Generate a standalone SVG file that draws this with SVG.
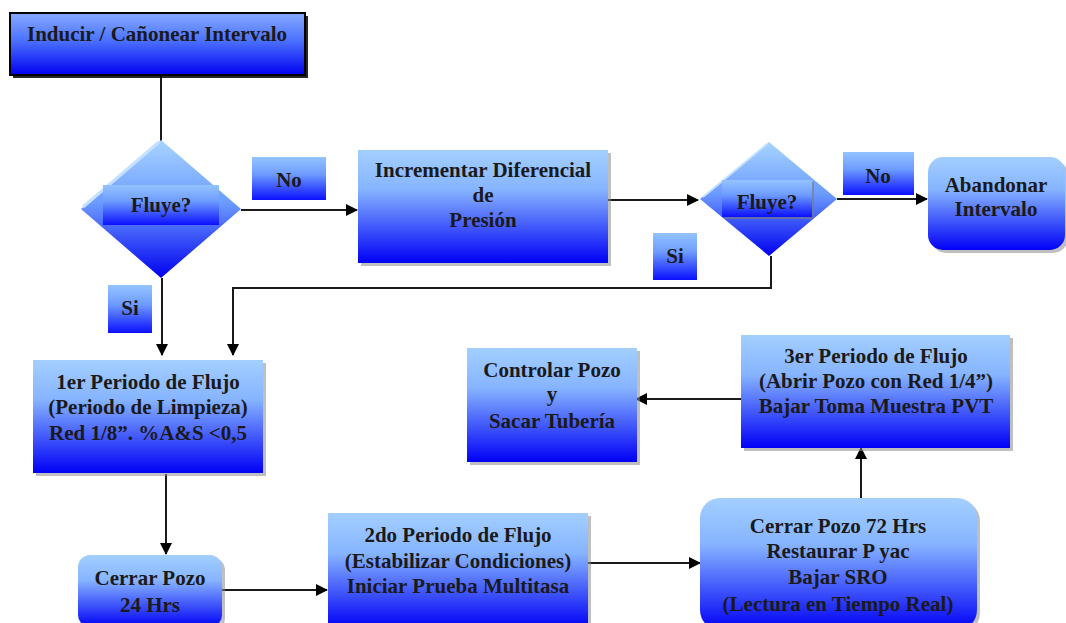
<svg xmlns="http://www.w3.org/2000/svg" width="1066" height="623" viewBox="0 0 1066 623">
  <defs>
    <linearGradient id="gBox" x1="0" y1="0" x2="0" y2="1">
      <stop offset="0" stop-color="#a3cfff"/>
      <stop offset="0.35" stop-color="#86b4ff"/>
      <stop offset="1" stop-color="#0000f6"/>
    </linearGradient>
    <linearGradient id="gTop" x1="0" y1="0" x2="0" y2="1">
      <stop offset="0" stop-color="#86aaff"/>
      <stop offset="0.45" stop-color="#4a70ff"/>
      <stop offset="1" stop-color="#0000f0"/>
    </linearGradient>
    <linearGradient id="gDia" x1="0" y1="0" x2="0" y2="1">
      <stop offset="0" stop-color="#a8d4ff"/>
      <stop offset="0.45" stop-color="#6c9cff"/>
      <stop offset="1" stop-color="#0000f0"/>
    </linearGradient>
    <linearGradient id="gTag" x1="0" y1="0" x2="0" y2="1">
      <stop offset="0" stop-color="#94c4ff"/>
      <stop offset="0.4" stop-color="#6e9cff"/>
      <stop offset="1" stop-color="#0a10ff"/>
    </linearGradient>
    <marker id="arr" viewBox="0 0 12 12" refX="11" refY="6" markerWidth="12" markerHeight="12" markerUnits="userSpaceOnUse" orient="auto">
      <path d="M0,0 L12,6 L0,12 Z" fill="#000"/>
    </marker>
    <style>
      .box { fill: url(#gBox); }
      .shadow { fill: #8a8a8a; opacity: 0.55; }
      .dia { fill: url(#gDia); }
      .tag { fill: url(#gTag); }
      .txt { font-family: "Liberation Serif", "Times New Roman", serif; font-weight: bold; font-size: 21px; fill: #1a1a1a; text-anchor: middle; }
      .conn { fill: none; stroke: #1a1a1a; stroke-width: 2; }
    </style>
  </defs>

  <rect width="1066" height="623" fill="#ffffff"/>

  <!-- connectors -->
  <g id="connectors">
    <path class="conn" d="M161,75 V142"/>
    <path class="conn" d="M241,210 H357" marker-end="url(#arr)"/>
    <path class="conn" d="M608,200 H698" marker-end="url(#arr)"/>
    <path class="conn" d="M837,199 H927" marker-end="url(#arr)"/>
    <path class="conn" d="M771,256 V288 H233 V355" marker-end="url(#arr)"/>
    <path class="conn" d="M162,278 V355" marker-end="url(#arr)"/>
    <path class="conn" d="M166,474 V554" marker-end="url(#arr)"/>
    <path class="conn" d="M218,590 H327" marker-end="url(#arr)"/>
    <path class="conn" d="M585,563 H700" marker-end="url(#arr)"/>
    <path class="conn" d="M861,498 V448" marker-end="url(#arr)"/>
    <path class="conn" d="M741,399 H636" marker-end="url(#arr)"/>
  </g>

  <!-- start -->
  <g id="n-inducir">
    <rect x="13" y="16" width="295" height="62" fill="#000" opacity="0.85"/>
    <rect x="10" y="13" width="295" height="62" fill="url(#gTop)" stroke="#000" stroke-width="2"/>
    <text class="txt" x="157" y="41">Inducir / Cañonear Intervalo</text>
  </g>

  <!-- first decision -->
  <g id="n-fluye1">
    <polygon class="dia" points="161,140 241,209 161,278 81,209"/>
    <polyline points="83,207 159,142" fill="none" stroke="#c4e2ff" stroke-width="3"/>
    <rect class="tag" x="103" y="185" width="116" height="40"/>
    <text class="txt" x="161" y="212">Fluye?</text>
  </g>

  <g id="lbl-no1">
    <rect class="tag" x="252" y="157" width="74" height="43"/>
    <text class="txt" x="289" y="187">No</text>
  </g>

  <g id="n-incrementar">
    <rect class="shadow" x="361" y="153" width="250" height="113"/>
    <rect class="box" x="358" y="150" width="250" height="113"/>
    <text class="txt" x="483" y="177">Incrementar Diferencial</text>
    <text class="txt" x="483" y="202">de</text>
    <text class="txt" x="483" y="227">Presión</text>
  </g>

  <!-- second decision -->
  <g id="n-fluye2">
    <polygon class="dia" points="769,142 837,199 769,256 700,199"/>
    <polyline points="703,197 767,144" fill="none" stroke="#c4e2ff" stroke-width="2"/>
    <rect x="724" y="182" width="90" height="37" fill="#7a7a7a" opacity="0.6"/>
    <rect class="tag" x="722" y="180" width="90" height="37"/>
    <text class="txt" x="767" y="209">Fluye?</text>
  </g>

  <g id="lbl-no2">
    <rect class="tag" x="843" y="152" width="71" height="43"/>
    <text class="txt" x="878" y="183">No</text>
  </g>

  <g id="n-abandonar">
    <rect class="shadow" x="931" y="160" width="137" height="93" rx="15"/>
    <rect class="box" x="928" y="157" width="137" height="93" rx="15"/>
    <text class="txt" x="996" y="192">Abandonar</text>
    <text class="txt" x="996" y="216">Intervalo</text>
  </g>

  <g id="lbl-si2">
    <rect class="tag" x="653" y="233" width="44" height="47"/>
    <text class="txt" x="675" y="263">Si</text>
  </g>

  <g id="lbl-si1">
    <rect class="tag" x="108" y="285" width="44" height="48"/>
    <text class="txt" x="130" y="315">Si</text>
  </g>

  <g id="n-periodo1">
    <rect class="shadow" x="36" y="363" width="230" height="113"/>
    <rect class="box" x="33" y="360" width="230" height="113"/>
    <text class="txt" x="148" y="389">1er Periodo de Flujo</text>
    <text class="txt" x="148" y="414">(Periodo de Limpieza)</text>
    <text class="txt" x="148" y="440">Red 1/8”. %A&amp;S &lt;0,5</text>
  </g>

  <g id="n-cerrar24">
    <rect class="shadow" x="81" y="558" width="144" height="72" rx="12"/>
    <rect class="box" x="78" y="555" width="144" height="72" rx="12"/>
    <text class="txt" x="150" y="585">Cerrar Pozo</text>
    <text class="txt" x="150" y="612">24 Hrs</text>
  </g>

  <g id="n-periodo2">
    <rect class="shadow" x="331" y="516" width="260" height="115"/>
    <rect class="box" x="328" y="513" width="260" height="115"/>
    <text class="txt" x="458" y="542">2do Periodo de Flujo</text>
    <text class="txt" x="458" y="568">(Estabilizar Condiciones)</text>
    <text class="txt" x="458" y="593">Iniciar Prueba Multitasa</text>
  </g>

  <g id="n-cerrar72">
    <rect class="shadow" x="703" y="501" width="277" height="132" rx="20"/>
    <rect class="box" x="700" y="498" width="277" height="132" rx="20"/>
    <text class="txt" x="838" y="533">Cerrar Pozo 72 Hrs</text>
    <text class="txt" x="838" y="558">Restaurar P yac</text>
    <text class="txt" x="838" y="584">Bajar SRO</text>
    <text class="txt" x="838" y="611">(Lectura en Tiempo Real)</text>
  </g>

  <g id="n-periodo3">
    <rect class="shadow" x="744" y="338" width="269" height="113"/>
    <rect class="box" x="741" y="335" width="269" height="113"/>
    <text class="txt" x="876" y="363">3er Periodo de Flujo</text>
    <text class="txt" x="876" y="388">(Abrir Pozo con Red 1/4”)</text>
    <text class="txt" x="876" y="413">Bajar Toma Muestra PVT</text>
  </g>

  <g id="n-controlar">
    <rect class="shadow" x="470" y="351" width="170" height="114"/>
    <rect class="box" x="467" y="348" width="170" height="114"/>
    <text class="txt" x="552" y="377">Controlar Pozo</text>
    <text class="txt" x="552" y="401">y</text>
    <text class="txt" x="552" y="428">Sacar Tubería</text>
  </g>
</svg>
